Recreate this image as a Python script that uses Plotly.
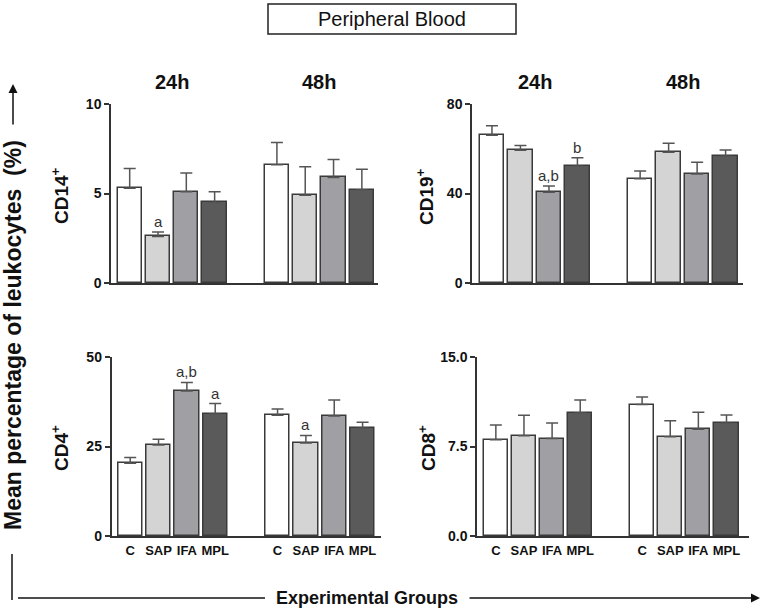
import plotly.graph_objects as go

groups = ['C', 'SAP', 'IFA', 'MPL']
times = ['24h', '48h']

# mean and error (upper bar only), 24h then 48h
cd14_mean = [5.3, 2.6, 5.1, 4.5, 6.6, 4.9, 5.9, 5.2]
cd14_err = [1.1, 0.25, 1.05, 0.6, 1.25, 1.6, 1.0, 1.15]
cd14_sig = ['', 'a', '', '', '', '', '', '']

cd19_mean = [66.0, 59.3, 40.6, 52.2, 46.6, 58.4, 48.7, 56.6]
cd19_err = [4.3, 2.2, 2.8, 3.8, 3.5, 4.1, 5.3, 2.8]
cd19_sig = ['', '', 'a,b', 'b', '', '', '', '']

cd4_mean = [20.3, 25.4, 40.5, 34.1, 33.7, 26.0, 33.5, 30.1]
cd4_err = [1.6, 1.6, 2.4, 2.9, 1.8, 2.1, 4.5, 1.7]
cd4_sig = ['', '', 'a,b', 'a', '', 'a', '', '']

cd8_mean = [8.07, 8.41, 8.16, 10.31, 11.01, 8.32, 8.94, 9.44]
cd8_err = [1.23, 1.7, 1.31, 1.09, 0.64, 1.34, 1.43, 0.7]
cd8_sig = ['', '', '', '', '', '', '', '']

W, H = 764, 614
FONT = 'Liberation Sans, Arial, sans-serif'
bar_colors = ['#ffffff', '#d4d4d4', '#a0a0a4', '#5a5a5a'] * 2
pos = [0, 1, 2, 3, 5.2, 6.2, 7.2, 8.2]


def px(x):
    return x / W


def py(y):
    return 1 - y / H


def text_at(x, y, text, size, angle=0):
    # paper-placed text, always centred on (x, y) in pixels
    return dict(x=px(x), y=py(y), xref='paper', yref='paper', text=text,
                textangle=angle, showarrow=False, xanchor='center', yanchor='middle',
                font=dict(family=FONT, size=size, color='#111111'))


panels = [
    dict(name='CD14', mean=cd14_mean, err=cd14_err, sig=cd14_sig, ymax=10,
         ticks=[0, 5, 10], fmt='', xdom=(111, 378), xr=(-0.66, 8.77), ydom=(104, 283),
         lab=(60, 196), xlabels=False),
    dict(name='CD19', mean=cd19_mean, err=cd19_err, sig=cd19_sig, ymax=80,
         ticks=[0, 40, 80], fmt='', xdom=(472, 743), xr=(-0.70, 8.81), ydom=(104, 283),
         lab=(425, 196), xlabels=False),
    dict(name='CD4', mean=cd4_mean, err=cd4_err, sig=cd4_sig, ymax=50,
         ticks=[0, 25, 50], fmt='', xdom=(111.5, 381), xr=(-0.66, 8.85), ydom=(357, 536),
         lab=(60, 448), xlabels=True),
    dict(name='CD8', mean=cd8_mean, err=cd8_err, sig=cd8_sig, ymax=15,
         ticks=[0, 7.5, 15], fmt='.1f', xdom=(477, 749), xr=(-0.67, 9.0), ydom=(357, 536),
         lab=(427, 448), xlabels=True),
]

fig = go.Figure()
annotations = []
layout = {}

for i, p in enumerate(panels):
    n = '' if i == 0 else str(i + 1)
    fig.add_trace(go.Bar(
        x=pos, y=p['mean'], width=0.86,
        marker=dict(color=bar_colors, line=dict(color='#3a3a3a', width=1.5)),
        error_y=dict(type='data', symmetric=False, array=p['err'],
                     arrayminus=[0] * len(p['err']), color='#555555',
                     thickness=1.5, width=6),
        xaxis='x' + n, yaxis='y' + n, showlegend=False,
    ))
    layout['xaxis' + n] = dict(
        domain=[px(p['xdom'][0]), px(p['xdom'][1])], range=list(p['xr']),
        anchor='y' + n, showline=True, linecolor='#333333', linewidth=1.5,
        showgrid=False, zeroline=False, automargin=False,
        tickvals=pos, ticktext=['<b>%s</b>' % g for g in groups * 2],
        showticklabels=p['xlabels'],
        ticks='outside', ticklen=2, tickcolor='rgba(0,0,0,0)',
        tickfont=dict(family=FONT, size=13, color='#111111'),
    )
    layout['yaxis' + n] = dict(
        domain=[py(p['ydom'][1]), py(p['ydom'][0])], range=[0, p['ymax']],
        anchor='x' + n, showline=True, linecolor='#333333', linewidth=1.5,
        showgrid=False, zeroline=False, automargin=False,
        tickvals=p['ticks'],
        ticktext=['<b>%s</b>' % (format(t, p['fmt']) if p['fmt'] else t) for t in p['ticks']],
        ticks='outside', ticklen=5, tickwidth=1.5, tickcolor='#333333',
        tickfont=dict(family=FONT, size=14, color='#111111'),
    )
    # significance letters
    for k, s in enumerate(p['sig']):
        if s:
            annotations.append(dict(
                x=pos[k], y=p['mean'][k] + p['err'][k], xref='x' + n, yref='y' + n,
                text=s, showarrow=False, xanchor='center', yanchor='bottom', yshift=0,
                font=dict(family=FONT, size=15, color='#333333')))
    # y label
    annotations.append(text_at(p['lab'][0], p['lab'][1],
                               '<b>' + p['name'] + '<sup>+</sup></b>', 19, -90))
    # time headers for top panels
    if i < 2:
        for t, xc in zip(times, [1.5, 6.7]):
            annotations.append(dict(
                x=xc, y=py(82), xref='x' + n, yref='paper', text='<b>' + t + '</b>',
                showarrow=False, xanchor='center', yanchor='middle',
                font=dict(family=FONT, size=20, color='#111111')))

# overall titles
annotations.append(text_at(392, 19, 'Peripheral Blood', 20))
annotations.append(text_at(13, 335, '<b>Mean percentage of leukocytes  (%)</b>', 23, -90))
annotations.append(text_at(367, 598, '<b>Experimental Groups</b>', 18))
# arrows
annotations.append(dict(
    x=px(13), y=py(84), xref='paper', yref='paper', ax=0, ay=42, text='',
    showarrow=True, arrowhead=2, arrowsize=1.2, arrowwidth=1.5, arrowcolor='#111111'))
annotations.append(dict(
    x=px(760), y=py(598), xref='paper', yref='paper', ax=-292, ay=0, text='',
    showarrow=True, arrowhead=2, arrowsize=1.2, arrowwidth=1.5, arrowcolor='#111111'))

shapes = [
    dict(type='rect', xref='paper', yref='paper', x0=px(268), x1=px(516),
         y0=py(34), y1=py(4), line=dict(color='#222222', width=1.5)),
    dict(type='line', xref='paper', yref='paper', x0=px(18), x1=px(265),
         y0=py(598), y1=py(598), line=dict(color='#111111', width=1.5)),
    dict(type='line', xref='paper', yref='paper', x0=px(12), x1=px(12),
         y0=py(554), y1=py(600), line=dict(color='#111111', width=1.5)),
]

fig.update_layout(
    width=W, height=H, margin=dict(l=0, r=0, t=0, b=0),
    plot_bgcolor='white', paper_bgcolor='white',
    annotations=annotations, shapes=shapes, bargap=0,
    **layout,
)

# drop the browser's default body margin so the figure sits at the page corner
fig.write_html('out.html', config={'displayModeBar': False},
               post_script="document.body.style.margin='0';")
